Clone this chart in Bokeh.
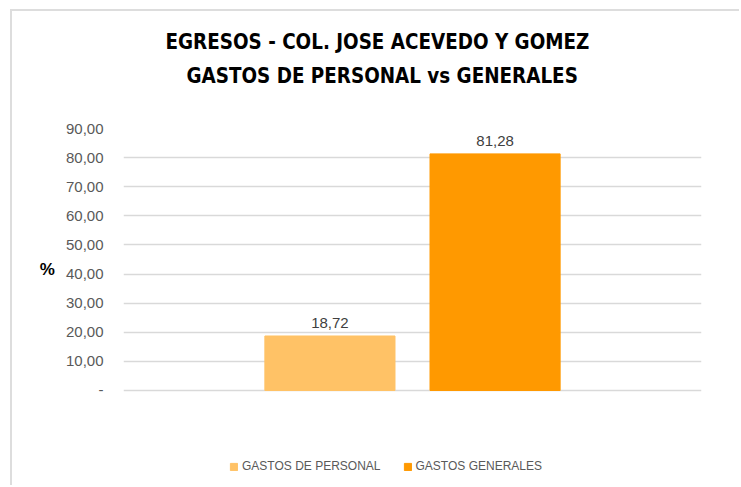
from bokeh.plotting import figure
from bokeh.models import (ColumnDataSource, FactorRange, Range1d, Title, Legend, LegendItem,
                          CustomJSTickFormatter, LabelSet, FixedTicker)
from bokeh.core.properties import value
from bokeh.embed import file_html
from bokeh.resources import INLINE

series = ["GASTOS DE PERSONAL", "GASTOS GENERALES"]
values = [18.72, 81.28]
labels = ["18,72", "81,28"]
colors = ["#FFC266", "#FF9900"]
y_ticks = [0, 10, 20, 30, 40, 50, 60, 70, 80, 90]

src = ColumnDataSource(dict(x=series, top=values, lab=labels, color=colors))

W, H = 729, 476
# frame extends below zero so the legend can sit inside it
p = figure(width=W, height=H, output_backend="svg", toolbar_location=None,
           x_range=FactorRange(factors=series, range_padding=0.75,
                               range_padding_units="absolute"),
           y_range=Range1d(-31.95, 90),
           min_border_left=111, min_border_right=40,
           min_border_top=117, min_border_bottom=4)
p.styles = {"margin-left": "10px", "margin-top": "9px",
            "border-left": "2px solid #DDDDDD", "border-top": "2px solid #DDDDDD"}
p.outline_line_color = None
p.background_fill_color = "white"
p.border_fill_color = "white"

r = p.vbar(x="x", top="top", width=0.788, color="color", source=src)

p.add_layout(LabelSet(x="x", y="top", text="lab", source=src, y_offset=8,
                      text_align="center", text_baseline="alphabetic",
                      text_font=value("Liberation Sans"), text_font_size="15px",
                      text_color="#404040"))

p.xaxis.visible = False
p.xgrid.grid_line_color = None
p.ygrid.grid_line_color = "#D9D9D9"
p.ygrid.grid_line_width = 1.5
p.ygrid.ticker = FixedTicker(ticks=y_ticks)

ax = p.yaxis[0]
ax.ticker = FixedTicker(ticks=y_ticks)
ax.formatter = CustomJSTickFormatter(
    code="return tick == 0 ? '-' : tick.toFixed(2).replace('.', ',');")
ax.axis_line_color = None
ax.major_tick_line_color = None
ax.minor_tick_line_color = None
ax.major_label_text_font = "Liberation Sans"
ax.major_label_text_font_size = "15px"
ax.major_label_text_color = "#595959"
ax.major_label_standoff = 14
ax.axis_label = "%\n \n \n "
ax.axis_label_orientation = "horizontal"
ax.axis_label_text_font = "Liberation Sans"
ax.axis_label_text_font_style = "bold"
ax.axis_label_text_font_size = "17px"
ax.axis_label_text_line_height = 1.28
ax.axis_label_text_color = "black"
ax.axis_label_standoff = 8

TF = "DejaVu Sans Condensed"
spacer = Title(text=" ", align="left", standoff=11, text_font=TF,
               text_font_size="20.4px")
t2 = Title(text="GASTOS DE PERSONAL vs GENERALES", align="left", offset=63,
           standoff=8, text_font=TF, text_font_style="bold",
           text_font_size="20.4px", text_color="black")
t1 = Title(text="EGRESOS - COL. JOSE ACEVEDO Y GOMEZ", align="left", offset=42,
           standoff=8, text_font=TF, text_font_style="bold",
           text_font_size="20.4px", text_color="black")
p.add_layout(spacer, "above")
p.add_layout(t2, "above")
p.add_layout(t1, "above")

legend = Legend(items=[LegendItem(label=series[i], renderers=[r], index=i) for i in range(2)],
                orientation="horizontal", location=(106, 10), padding=5,
                label_text_font="Liberation Sans", label_text_font_size="12px",
                label_text_color="#595959", glyph_width=9, glyph_height=9,
                spacing=22, label_standoff=4, border_line_color=None,
                background_fill_alpha=0)
p.add_layout(legend, "center")

open("out.html", "w").write(file_html(p, INLINE))
